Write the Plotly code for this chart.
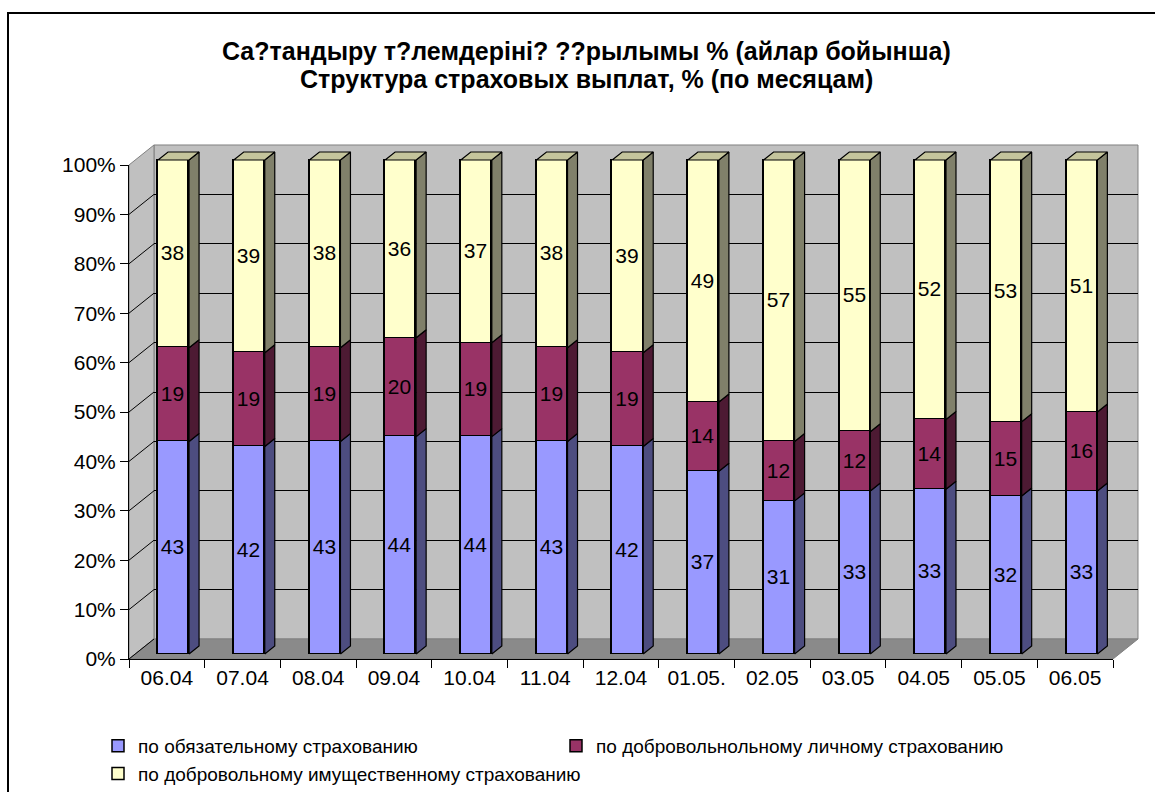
import plotly.graph_objects as go

# ---------------- data ----------------
categories = ["06.04", "07.04", "08.04", "09.04", "10.04", "11.04", "12.04",
              "01.05.", "02.05", "03.05", "04.05", "05.05", "06.05"]
compulsory = [43, 42, 43, 44, 44, 43, 42, 37, 31, 33, 33, 32, 33]
voluntary_personal = [19, 19, 19, 20, 19, 19, 19, 14, 12, 12, 14, 15, 16]
voluntary_property = [38, 39, 38, 36, 37, 38, 39, 49, 57, 55, 52, 53, 51]
series_names = ["по обязательному страхованию",
                "по добровольнольному личному страхованию",
                "по добровольному имущественному страхованию"]
title_lines = ["Са?тандыру т?лемдеріні? ??рылымы % (айлар бойынша)",
               "Структура страховых выплат, % (по месяцам)"]
y_ticks = [0, 10, 20, 30, 40, 50, 60, 70, 80, 90, 100]

# ---------------- styles / geometry ----------------
W, H = 1155, 792
FONT = "Liberation Sans, Arial, sans-serif"
front_col = ["#9999FF", "#993366", "#FFFFCC"]
side_col = ["#4D4D80", "#4D1A33", "#80806A"]
top_col = "#C4C49C"
WALL = "#C0C0C0"
FLOOR = "#8A8A8A"

X0, X1 = 129, 1113      # front plane, x pixel extent
Y0, Y1 = 659, 165       # front plane, pixel of 0% and 100%
DX, DY = 25, 20         # depth of the 3-D box
BX, BY = 6.7, 5         # offset of the bar fronts
SDX, SDY = 10, 8        # depth of each bar
BAR_W = 0.41
n = len(categories)
unit_x = (X1 - X0) / n
unit_y = (Y0 - Y1) / 100.0


def fx(px):
    return px / W


def fy(py):
    return 1 - py / H


fig = go.Figure()

# normalized stacking
series = [compulsory, voluntary_personal, voluntary_property]
totals = [sum(s[i] for s in series) for i in range(n)]
norm = [[s[i] / totals[i] * 100 for i in range(n)] for s in series]
xs = list(range(n))

# bar front faces (subplot x2/y2)
for k, s in enumerate(series):
    fig.add_trace(go.Bar(
        x=xs, y=norm[k], width=BAR_W, name=series_names[k],
        marker=dict(color=front_col[k], line=dict(color="black", width=1.5)),
        text=[str(v) for v in s], textposition="inside",
        insidetextanchor="middle", textangle=0,
        textfont=dict(family=FONT, size=21, color="black"),
        xaxis="x2", yaxis="y2", hoverinfo="skip"))

# bar side faces and top faces
sdxu = SDX / unit_x
sdyu = SDY / unit_y
base = [0.0] * n
for k in range(len(series)):
    px, py = [], []
    for i in range(n):
        b = base[i]
        t = b + norm[k][i]
        xr = i + BAR_W / 2
        px += [xr, xr + sdxu, xr + sdxu, xr, xr, None]
        py += [b, b + sdyu, t + sdyu, t, b, None]
        base[i] = t
    fig.add_trace(go.Scatter(
        x=px, y=py, mode="lines", fill="toself", fillcolor=side_col[k],
        line=dict(color="black", width=1.2), showlegend=False,
        hoverinfo="skip", xaxis="x2", yaxis="y2"))
tx, ty = [], []
for i in range(n):
    xl, xr = i - BAR_W / 2, i + BAR_W / 2
    t = base[i]
    tx += [xl, xr, xr + sdxu, xl + sdxu, xl, None]
    ty += [t, t, t + sdyu, t + sdyu, t, None]
fig.add_trace(go.Scatter(
    x=tx, y=ty, mode="lines", fill="toself", fillcolor=top_col,
    line=dict(color="black", width=1.2), showlegend=False,
    hoverinfo="skip", xaxis="x2", yaxis="y2"))

# invisible traces to activate the front axes and the back-wall axes
fig.add_trace(go.Scatter(x=[0], y=[0], mode="markers", marker=dict(opacity=0),
                         showlegend=False, hoverinfo="skip",
                         xaxis="x3", yaxis="y3"))
fig.add_trace(go.Scatter(x=[0], y=[0], mode="markers", marker=dict(opacity=0),
                         showlegend=False, hoverinfo="skip",
                         xaxis="x", yaxis="y"))

# ---------------- decoration shapes ----------------
shapes = []
# outer border
shapes.append(dict(type="rect", xref="paper", yref="paper",
                   x0=fx(8), y0=fy(1200), x1=fx(1400), y1=fy(13),
                   line=dict(color="black", width=2), fillcolor="rgba(0,0,0,0)",
                   layer="below"))


def poly(pts):
    return "M " + " L ".join(f"{fx(a):.5f},{fy(b):.5f}" for a, b in pts) + " Z"


# back wall
shapes.append(dict(type="path", xref="paper", yref="paper", layer="below",
                   path=poly([(X0 + DX, Y1 - DY), (X1 + DX, Y1 - DY),
                              (X1 + DX, Y0 - DY), (X0 + DX, Y0 - DY)]),
                   fillcolor=WALL, line=dict(color="#808080", width=1)))
# left wall
shapes.append(dict(type="path", xref="paper", yref="paper", layer="below",
                   path=poly([(X0, Y0), (X0, Y1), (X0 + DX, Y1 - DY),
                              (X0 + DX, Y0 - DY)]),
                   fillcolor=WALL, line=dict(color="#808080", width=1)))
# floor
shapes.append(dict(type="path", xref="paper", yref="paper", layer="below",
                   path=poly([(X0, Y0), (X0 + DX, Y0 - DY), (X1 + DX, Y0 - DY),
                              (X1, Y0)]),
                   fillcolor=FLOOR, line=dict(color="#808080", width=1)))
# left wall grid diagonals
for v in y_ticks[:-1]:
    yp = Y0 - v * unit_y
    shapes.append(dict(type="line", xref="paper", yref="paper", layer="below",
                       x0=fx(X0), y0=fy(yp), x1=fx(X0 + DX), y1=fy(yp - DY),
                       line=dict(color="black", width=1)))

# title (two lines)
annotations = []
for line, yc in zip(title_lines, [51, 79]):
    annotations.append(dict(text=line, xref="paper", yref="paper",
                            x=0.508, y=fy(yc), xanchor="center",
                            yanchor="middle", showarrow=False,
                            font=dict(family=FONT, size=25, color="black",
                                      weight="bold")))

# ---------------- layout ----------------
fig.update_layout(
    width=W, height=H,
    paper_bgcolor="white", plot_bgcolor="rgba(0,0,0,0)",
    margin=dict(l=0, r=0, t=0, b=0, autoexpand=False),
    font=dict(family=FONT, size=19, color="black"),
    barmode="stack", bargap=0,
    shapes=shapes, annotations=annotations,
    # back wall axes (gridlines)
    xaxis=dict(domain=[fx(X0 + DX), fx(X1 + DX)], range=[-0.5, n - 0.5],
               showgrid=False, zeroline=False, showticklabels=False,
               ticks="", showline=False, anchor="y", fixedrange=True),
    yaxis=dict(domain=[fy(Y0 - DY), fy(Y1 - DY)], range=[0, 100],
               tickmode="array", tickvals=y_ticks[1:-1], showgrid=True,
               gridcolor="black", gridwidth=1, zeroline=False,
               showticklabels=False, ticks="", showline=False, anchor="x",
               fixedrange=True),
    # bar axes
    xaxis2=dict(domain=[fx(X0 + BX), fx(X1 + BX)], range=[-0.5, n - 0.5],
                visible=False, anchor="y2", fixedrange=True),
    yaxis2=dict(domain=[fy(Y0 - BY + 2 * unit_y), fy(Y0 - BY - 104 * unit_y)],
                range=[-2, 104], visible=False, anchor="x2", fixedrange=True),
    # front axes (ticks, labels)
    xaxis3=dict(domain=[fx(X0), fx(X1)], range=[-0.5, n - 0.5],
                tickmode="array", tickvals=xs, ticktext=categories,
                ticks="", showgrid=False, zeroline=False,
                showline=True, linecolor="black", linewidth=1,
                tickfont=dict(family=FONT, size=21),
                minor=dict(tickmode="array",
                           tickvals=[i - 0.5 for i in range(n + 1)],
                           ticks="outside", ticklen=8, tickcolor="black",
                           tickwidth=1, showgrid=False),
                anchor="y3", fixedrange=True),
    yaxis3=dict(domain=[fy(Y0), fy(Y1)], range=[0, 100],
                tickmode="array", tickvals=y_ticks,
                ticktext=[f"{v}%" for v in y_ticks],
                ticks="outside", ticklen=8, tickcolor="black", tickwidth=1,
                showgrid=False, zeroline=False, showline=True,
                linecolor="black", linewidth=1,
                tickfont=dict(family=FONT, size=21),
                anchor="x3", fixedrange=True),
    showlegend=True,
    legend=dict(orientation="h", x=fx(98), xanchor="left",
                y=fy(727), yanchor="top", traceorder="normal",
                entrywidthmode="pixels", entrywidth=413,
                font=dict(family=FONT, size=19), bgcolor="rgba(0,0,0,0)",
                itemclick=False, itemdoubleclick=False),
)

fig.write_html("out.html",
               config={"displayModeBar": False, "staticPlot": False},
               post_script="document.body.style.margin='0px';"
                           "document.body.style.overflow='hidden';")
